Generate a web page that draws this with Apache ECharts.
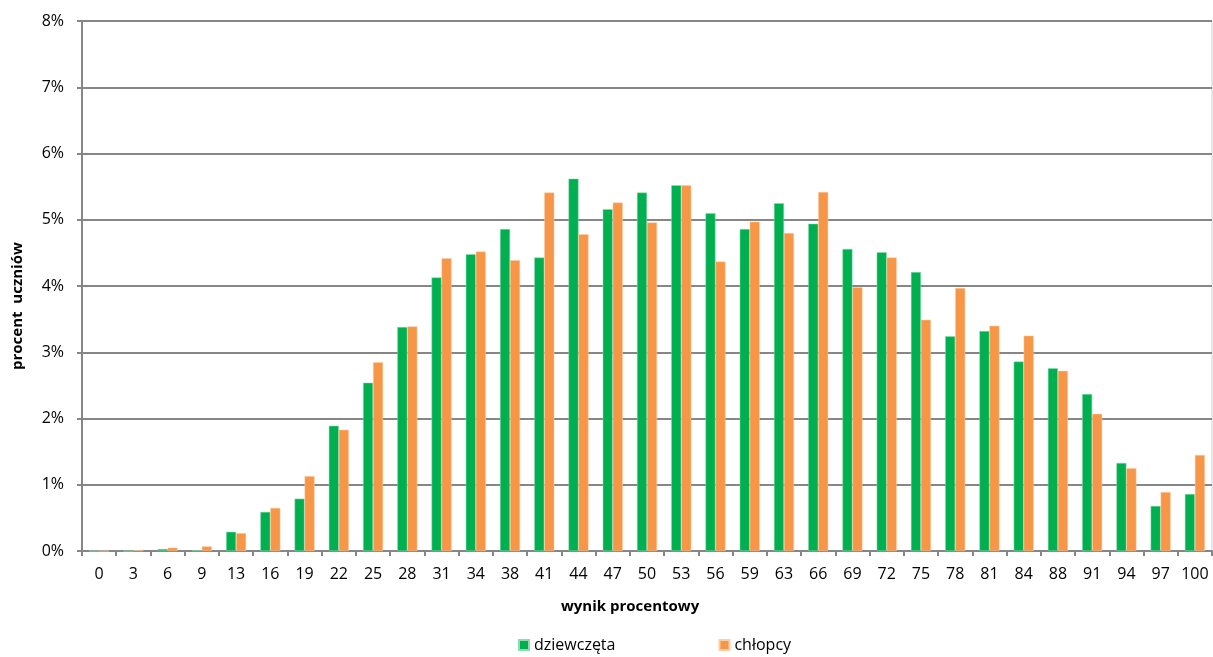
<!DOCTYPE html>
<html>
<head>
<meta charset="utf-8">
<script src="https://cdn.jsdelivr.net/npm/echarts@6/dist/echarts.min.js"></script>
<style>
html,body{margin:0;padding:0;background:#fff;}
#chart{width:1213px;height:657px;}
</style>
</head>
<body>
<div id="chart"></div>
<script>
const categories = ['0','3','6','9','13','16','19','22','25','28','31','34','38','41','44','47','50','53','56','59','63','66','69','72','75','78','81','84','88','91','94','97','100'];
const girls = [0, 0, 0.03, 0.01, 0.29, 0.59, 0.79, 1.89, 2.54, 3.38, 4.13, 4.48, 4.86, 4.43, 5.62, 5.16, 5.41, 5.52, 5.10, 4.86, 5.25, 4.94, 4.56, 4.51, 4.21, 3.24, 3.32, 2.86, 2.76, 2.37, 1.33, 0.68, 0.86];
const boys  = [0, 0.01, 0.05, 0.07, 0.27, 0.65, 1.13, 1.83, 2.85, 3.39, 4.42, 4.52, 4.39, 5.41, 4.78, 5.26, 4.96, 5.52, 4.37, 4.97, 4.80, 5.42, 3.98, 4.43, 3.49, 3.97, 3.40, 3.25, 2.72, 2.07, 1.25, 0.89, 1.45];
const seriesNames = ['dziewczęta', 'chłopcy'];
const xTitle = 'wynik procentowy';
const yTitle = 'procent  uczniów';
const yTicks = {min: 0, max: 8, interval: 1};

const font = '"Open Sans", "Liberation Sans", sans-serif';
const chart = echarts.init(document.getElementById('chart'));
chart.setOption({
  animation: false,
  textStyle: {fontFamily: font},
  grid: {left: 82, right: 1, top: 21, bottom: 106, containLabel: false},
  legend: {
    top: 632, left: 513,
    itemWidth: 10, itemHeight: 10, itemGap: 103,
    icon: 'rect',
    textStyle: {fontSize: 16, color: '#000', fontFamily: font},
    data: seriesNames
  },
  graphic: [
    {type: 'text', left: 561, top: 599,
     style: {text: xTitle, font: 'bold 15px ' + font, fill: '#000'}},
    {type: 'text', x: 10, y: 370, rotation: Math.PI / 2,
     style: {text: yTitle, font: 'bold 15px ' + font, fill: '#000', textVerticalAlign: 'top'}},
    {type: 'line', shape: {x1: 1212, y1: 21, x2: 1212, y2: 551},
     style: {stroke: '#d0d0d0', lineWidth: 1}}
  ],
  xAxis: {
    type: 'category',
    data: categories,
    axisLine: {lineStyle: {color: '#868686', width: 2}},
    axisTick: {show: true, length: 5, lineStyle: {color: '#868686', width: 2}},
    axisLabel: {fontSize: 16, color: '#000', margin: 15, interval: 0}
  },
  yAxis: {
    type: 'value',
    min: yTicks.min, max: yTicks.max, interval: yTicks.interval,
    axisLine: {show: true, lineStyle: {color: '#868686', width: 2}},
    axisTick: {show: true, length: 5, lineStyle: {color: '#868686', width: 2}},
    axisLabel: {fontSize: 16, color: '#000', margin: 18, formatter: '{value}%'},
    splitLine: {lineStyle: {color: '#868686', width: 2}}
  },
  series: [
    {name: seriesNames[0], type: 'bar', data: girls, barWidth: 10, barGap: '0%',
     itemStyle: {color: '#00B050', borderColor: '#8fdcb0', borderWidth: 0.5}},
    {name: seriesNames[1], type: 'bar', data: boys, barWidth: 10,
     itemStyle: {color: '#F79646', borderColor: '#fbcfa8', borderWidth: 0.5}}
  ]
});
</script>
</body>
</html>
